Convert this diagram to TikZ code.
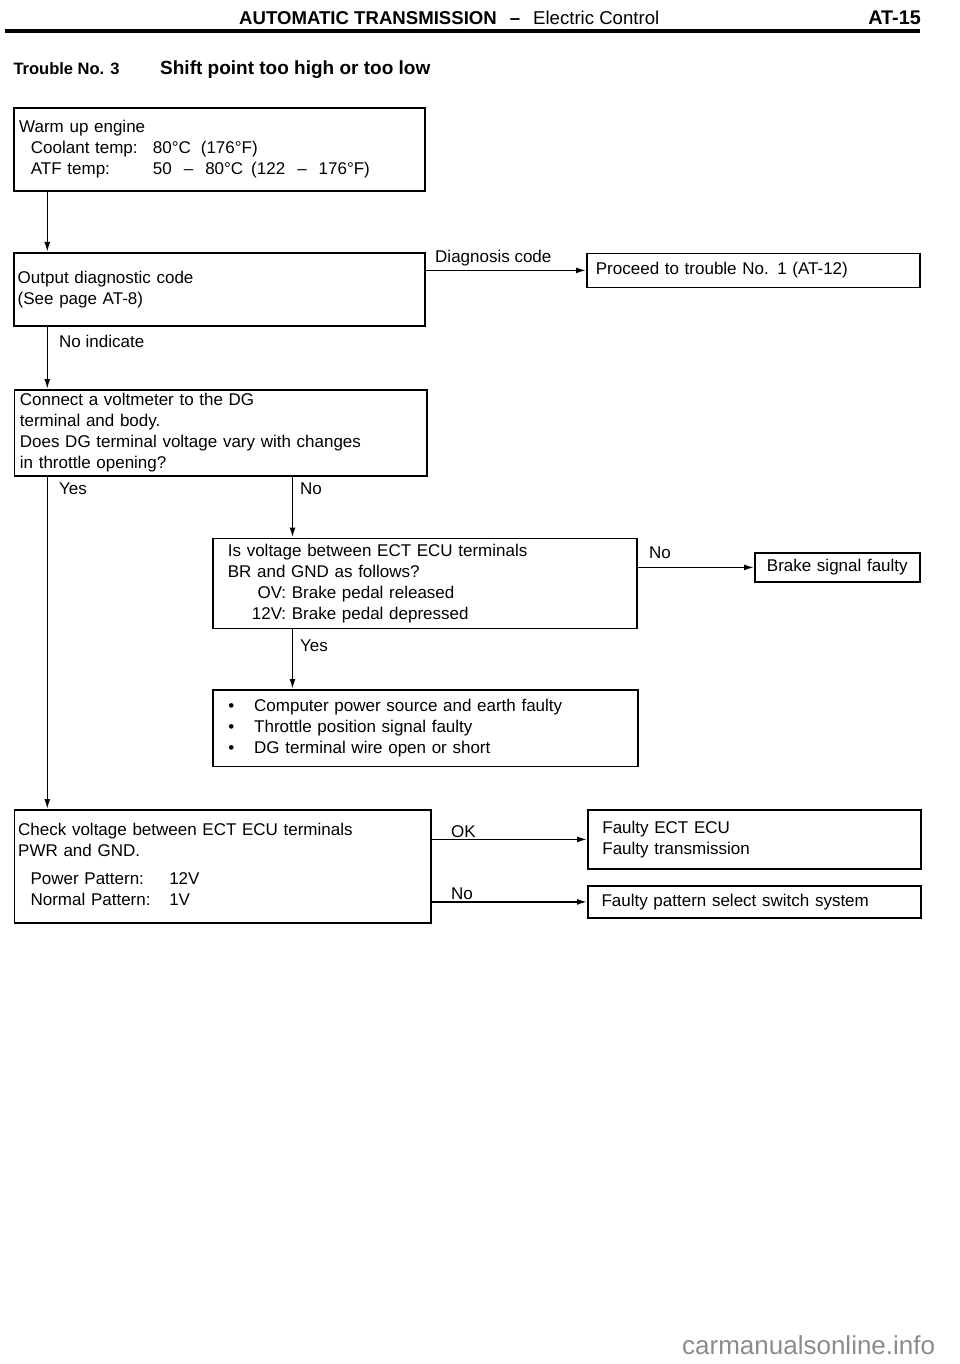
\documentclass[tikz,border=0pt]{standalone}
\usepackage{fontspec}
\setmainfont{Liberation Sans}
\usetikzlibrary{arrows.meta}
\newcommand\bodyfont{\fontsize{17}{21}\selectfont}
\definecolor{wm}{gray}{0.55}
\begin{document}
\begin{tikzpicture}[x=1pt,y=-1pt,
  every node/.style={font=\bodyfont},
  box/.style={draw, line width=1.8pt, anchor=north west, align=left, inner ysep=0pt,
    execute at begin node=\strut, execute at end node=\strut},
  lbl/.style={inner sep=0pt, anchor=base west},
  arr/.style={draw, line width=1.6pt, -{Latex[length=10pt,width=6pt]}}]
\fill[white] (0,0) rectangle (960,1364);
\useasboundingbox (0,0) rectangle (960,1364);

% header
\node[lbl, font=\fontsize{18.6}{22}\selectfont] (hdr) at (239,25)
  {{\bfseries AUTOMATIC TRANSMISSION\hspace{13pt}–}\hspace{13pt}Electric Control};
\node[inner sep=0pt, anchor=base east, font=\fontsize{19.8}{22}\selectfont\bfseries] (pg) at (921,25) {AT-15};
\coordinate (rl) at (5,31);
\coordinate (rr) at (920,31);
\draw[line width=3.5pt] (rl) -- (rr);
\node[lbl, font=\fontsize{16.5}{20}\selectfont\bfseries] (tno) at (13.3,74.5) {Trouble No. 3};
\node[lbl, font=\fontsize{19}{22}\selectfont\bfseries] (ttl) at (160,75) {Shift point too high or too low};

% boxes
\node[box, text width=401pt, inner xsep=5pt, minimum height=83pt] (b1) at (13.3,107)
  {Warm up engine\\
   \hspace*{11.7pt}\makebox[122pt][l]{Coolant temp:}80°C\hspace{10pt}(176°F)\\
   \hspace*{11.7pt}\makebox[122pt][l]{ATF temp:}50\hspace{12pt}–\hspace{12pt}80°C\hspace{8pt}(122\hspace{12pt}–\hspace{12pt}176°F)};

\node[box, text width=404pt, inner xsep=3.5pt, minimum height=73pt] (b2) at (13.3,252)
  {Output diagnostic code\\(See page AT-8)};

\node[box, text width=315pt, inner xsep=9pt, minimum height=34pt] (pr) at (586,252.5)
  {Proceed to trouble No. 1 (AT-12)};

\node[box, text width=401.5pt, inner xsep=5.5pt, minimum height=86pt] (b3) at (13.5,389)
  {Connect a voltmeter to the DG\\
   terminal and body.\\
   Does DG terminal voltage vary with changes\\
   in throttle opening?};

\node[box, text width=394.6pt, inner xsep=14.7pt, minimum height=90pt] (b4) at (212.3,537.5)
  {Is voltage between ECT ECU terminals\\
   BR and GND as follows?\\
   \makebox[58.3pt][r]{OV:} Brake pedal released\\
   \makebox[58.3pt][r]{12V:} Brake pedal depressed};

\node[box, text width=141pt, inner xsep=12pt, minimum height=29pt] (br) at (754,552)
  {Brake signal faulty};

\node[box, text width=394.6pt, inner xsep=15.2pt, minimum height=76.5pt] (b5) at (212.3,689)
  {\makebox[25.8pt][l]{•}Computer power source and earth faulty\\
   \makebox[25.8pt][l]{•}Throttle position signal faulty\\
   \makebox[25.8pt][l]{•}DG terminal wire open or short};

\node[box, text width=409pt, inner xsep=3.7pt, minimum height=113pt] (b6) at (13.6,809)
  {Check voltage between ECT ECU terminals\\
   PWR and GND.\\[7pt]
   \hspace*{12.4pt}\makebox[138.7pt][l]{Power Pattern:}12V\\
   \hspace*{12.4pt}\makebox[138.7pt][l]{Normal Pattern:}1V};

\node[box, text width=304pt, inner xsep=14.5pt, minimum height=59pt] (b7) at (587,809)
  {Faulty ECT ECU\\Faulty transmission};

\node[box, text width=305.8pt, inner xsep=13.6pt, minimum height=32pt] (b8) at (587,885)
  {Faulty pattern select switch system};

% connectors
\coordinate (xL) at (47.3,0);
\coordinate (xM) at (292.5,0);
\draw[arr] (b1.south -| xL) -- (b2.north -| xL);
\draw[arr] (b2.east |- pr.west) -- (pr.west);
\draw[arr] (b2.south -| xL) -- (b3.north -| xL);
\draw[arr] (b3.south -| xM) -- (b4.north -| xM);
\draw[arr] (b3.south -| xL) -- (b6.north -| xL);
\draw[arr] (b4.east |- br.west) -- (br.west);
\draw[arr] (b4.south -| xM) -- (b5.north -| xM);
\draw[arr] (b6.east |- b7.west) -- (b7.west);
\draw[arr] (b6.east |- b8.west) -- (b8.west);

% labels
\node[lbl] (lDiag) at (435,262) {Diagnosis code};
\node[lbl] (lNoInd) at (59,347) {No indicate};
\node[lbl] (lYes1) at (59,494) {Yes};
\node[lbl] (lNo1) at (300,494) {No};
\node[lbl] (lNo2) at (649,558) {No};
\node[lbl] (lYes2) at (300,651) {Yes};
\node[lbl] (lOK) at (451,837.7) {OK};
\node[lbl] (lNo3) at (451,899) {No};

% watermark
\node[lbl, font=\fontsize{26}{30}\selectfont, text=wm] (wmk) at (682,1354) {carmanualsonline.info};
\end{tikzpicture}
\end{document}
